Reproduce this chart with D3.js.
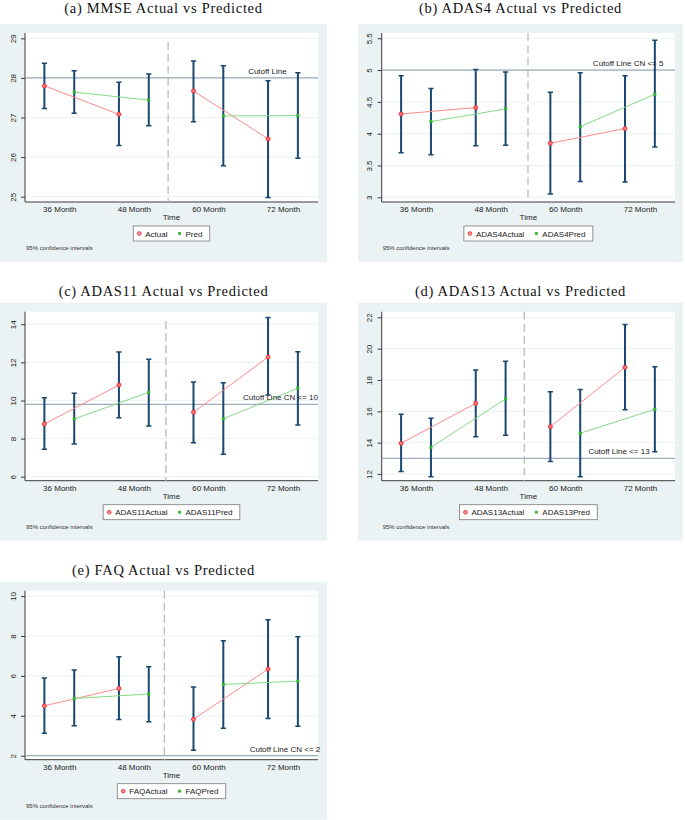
<!DOCTYPE html>
<html>
<head>
<meta charset="utf-8">
<script src="https://cdn.jsdelivr.net/npm/d3@7"></script>
<style>
  body { margin: 0; background: #fff; }
</style>
</head>
<body>
<div id="app"></div>
<script>
// --- data ---
const months = ["36 Month", "48 Month", "60 Month", "72 Month"];

const mmseActual = [27.80, 27.08, 27.67, 26.46];
const mmseActualLo = [27.23, 26.29, 26.89, 24.98];
const mmseActualHi = [28.37, 27.89, 28.43, 27.93];
const mmsePred = [27.64, 27.44, 27.04, 27.05];
const mmsePredLo = [27.11, 26.79, 25.78, 25.97];
const mmsePredHi = [28.18, 28.10, 28.31, 28.13];

const adas4Actual = [4.31, 4.41, 3.85, 4.08];
const adas4ActualLo = [3.70, 3.81, 3.05, 3.24];
const adas4ActualHi = [4.91, 5.01, 4.65, 4.91];
const adas4Pred = [4.19, 4.39, 4.11, 4.62];
const adas4PredLo = [3.67, 3.82, 3.25, 3.79];
const adas4PredHi = [4.71, 4.97, 4.96, 5.47];

const adas11Actual = [8.77, 10.81, 9.38, 12.28];
const adas11ActualLo = [7.44, 9.10, 7.78, 10.29];
const adas11ActualHi = [10.15, 12.55, 10.97, 14.35];
const adas11Pred = [9.03, 10.43, 9.04, 10.64];
const adas11PredLo = [7.72, 8.66, 7.18, 8.71];
const adas11PredHi = [10.38, 12.16, 10.93, 12.56];

const adas13Actual = [13.96, 16.51, 15.02, 18.81];
const adas13ActualLo = [12.15, 14.38, 12.79, 16.10];
const adas13ActualHi = [15.81, 18.64, 17.25, 21.55];
const adas13Pred = [13.70, 16.79, 14.60, 16.13];
const adas13PredLo = [11.83, 14.47, 11.83, 13.42];
const adas13PredHi = [15.55, 19.19, 17.40, 18.85];

const faqActual = [4.50, 5.37, 3.83, 6.34];
const faqActualLo = [3.13, 3.82, 2.27, 3.87];
const faqActualHi = [5.89, 6.96, 5.44, 8.81];
const faqPred = [4.87, 5.09, 5.57, 5.74];
const faqPredLo = [3.50, 3.70, 3.37, 3.48];
const faqPredHi = [6.29, 6.46, 7.76, 7.96];

const titles = [
  "(a) MMSE Actual vs Predicted",
  "(b) ADAS4 Actual vs Predicted",
  "(c) ADAS11 Actual vs Predicted",
  "(d) ADAS13 Actual vs Predicted",
  "(e) FAQ Actual vs Predicted"
];
const legendNames = [
  ["Actual", "Pred"],
  ["ADAS4Actual", "ADAS4Pred"],
  ["ADAS11Actual", "ADAS11Pred"],
  ["ADAS13Actual", "ADAS13Pred"],
  ["FAQActual", "FAQPred"]
];
const yTicks = [
  [25, 26, 27, 28, 29],
  [3, 3.5, 4, 4.5, 5, 5.5],
  [6, 8, 10, 12, 14],
  [12, 14, 16, 18, 20, 22],
  [2, 4, 6, 8, 10]
];
const yDomains = [
  [24.866, 29.134],
  [2.926, 5.583],
  [5.79, 14.66],
  [11.57, 22.36],
  [1.80, 10.27]
];
const cutoffValues = [28, 5, 9.8, 13, 2];
const cutoffLabels = [
  "Cutoff Line",
  "Cutoff Line CN <= 5",
  "Cutoff Line CN <= 10",
  "Cutoff Line <= 13",
  "Cutoff Line CN <= 2"
];
const cutoffLabelX = [3.05, 3.315, 3.47, 3.13, 3.50];
const dividerX = [1.46, 1.50, 1.43, 1.45, 1.41];
const dividerTopGap = [8.7, 0, 9.4, 0, 0];

const series = [
  [mmseActual, mmseActualLo, mmseActualHi, mmsePred, mmsePredLo, mmsePredHi],
  [adas4Actual, adas4ActualLo, adas4ActualHi, adas4Pred, adas4PredLo, adas4PredHi],
  [adas11Actual, adas11ActualLo, adas11ActualHi, adas11Pred, adas11PredLo, adas11PredHi],
  [adas13Actual, adas13ActualLo, adas13ActualHi, adas13Pred, adas13PredLo, adas13PredHi],
  [faqActual, faqActualLo, faqActualHi, faqPred, faqPredLo, faqPredHi]
];

// --- style / layout ---
const colors = {
  region: "#eaf2f3",
  grid: "#eaf2f3",
  axis: "#3a3a3a",
  bar: "#1a476f",
  actualLine: "#ff8a8a",
  actualMarker: "#e8262b",
  predLine: "#86d986",
  predMarker: "#2cb52c",
  cutoff: "#8798aa",
  divider: "#b8bcbe"
};
const sans = "'Liberation Sans', Arial, sans-serif";
const serif = "'Liberation Serif', 'Times New Roman', serif";

const rowTops = [24, 302.7, 581.7];
const titleBaselines = [12.5, 295.5, 575];
const columns = [
  { x: 0, w: 327, left: 25, right: 318 },
  { x: 358, w: 325, left: 381.7, right: 675 }
];

const svg = d3.select("#app")
  .append("svg")
  .attr("width", 685)
  .attr("height", 820);

const drawPanel = (i) => {
  const col = columns[i % 2];
  const row = Math.floor(i / 2);
  const top = rowTops[row];
  const plotTop = top + 9;
  const plotBottom = top + 178;
  const [act, actLo, actHi, pred, predLo, predHi] = series[i];

  const g = svg.append("g");

  g.append("text")
    .attr("x", col.x + col.w / 2)
    .attr("y", titleBaselines[row])
    .attr("text-anchor", "middle")
    .attr("font-family", serif)
    .attr("font-size", 14.5)
    .attr("letter-spacing", 0.7)
    .attr("fill", "#111")
    .text(titles[i]);

  g.append("rect")
    .attr("x", col.x).attr("y", top)
    .attr("width", col.w).attr("height", 238)
    .attr("fill", colors.region);

  g.append("rect")
    .attr("x", col.left).attr("y", plotTop)
    .attr("width", col.right - col.left).attr("height", plotBottom - plotTop)
    .attr("fill", "#fff");

  const x = d3.scaleLinear().domain([-0.46, 3.47]).range([col.left, col.right]);
  const y = d3.scaleLinear().domain(yDomains[i]).range([plotBottom, plotTop]);

  // gridlines
  g.append("g")
    .selectAll("line")
    .data(yTicks[i])
    .join("line")
    .attr("x1", col.left).attr("x2", col.right)
    .attr("y1", (d) => y(d)).attr("y2", (d) => y(d))
    .attr("stroke", colors.grid)
    .attr("stroke-width", 1);

  // y axis
  const yAxis = g.append("g")
    .attr("transform", `translate(${col.left},0)`)
    .call(d3.axisLeft(y).tickValues(yTicks[i]).tickSize(4).tickFormat(d3.format("")));
  yAxis.select(".domain")
    .attr("stroke", colors.axis)
    .attr("d", `M0,${plotTop}V${plotBottom}`);
  yAxis.selectAll(".tick line").attr("stroke", colors.axis);
  yAxis.selectAll(".tick text")
    .attr("font-family", sans)
    .attr("font-size", 8)
    .attr("fill", "#222")
    .attr("x", 0).attr("y", 0)
    .attr("dy", null)
    .attr("text-anchor", "middle")
    .attr("dominant-baseline", "central")
    .attr("transform", "translate(-12,0) rotate(-90)");

  // x axis
  const xAxis = g.append("g")
    .attr("transform", `translate(0,${plotBottom})`)
    .call(d3.axisBottom(x).tickValues([0, 1, 2, 3]).tickSize(0).tickFormat((d) => months[d]));
  xAxis.select(".domain")
    .attr("stroke", colors.axis)
    .attr("d", `M${col.left},0H${col.right}`);
  xAxis.selectAll(".tick text")
    .attr("font-family", sans)
    .attr("font-size", 8)
    .attr("fill", "#222")
    .attr("dy", null)
    .attr("y", 10);

  g.append("text")
    .attr("x", (col.left + col.right) / 2)
    .attr("y", top + 196)
    .attr("text-anchor", "middle")
    .attr("font-family", sans)
    .attr("font-size", 8)
    .attr("fill", "#222")
    .text("Time");

  // cutoff line
  g.append("line")
    .attr("x1", col.left).attr("x2", col.right)
    .attr("y1", y(cutoffValues[i])).attr("y2", y(cutoffValues[i]))
    .attr("stroke", colors.cutoff)
    .attr("stroke-width", 1);

  // divider between 48 and 60 month
  g.append("line")
    .attr("x1", x(dividerX[i])).attr("x2", x(dividerX[i]))
    .attr("y1", plotTop + dividerTopGap[i]).attr("y2", plotBottom)
    .attr("stroke", colors.divider)
    .attr("stroke-width", 1.3)
    .attr("stroke-dasharray", "8,4");

  const points = [];
  months.forEach((m, k) => {
    points.push({ kind: "actual", k, xv: k - 0.2, v: act[k], lo: actLo[k], hi: actHi[k] });
    points.push({ kind: "pred", k, xv: k + 0.2, v: pred[k], lo: predLo[k], hi: predHi[k] });
  });

  // confidence interval caps
  const bars = g.append("g")
    .attr("stroke", colors.bar)
    .attr("stroke-width", 2);
  bars.selectAll("line.ci")
    .data(points)
    .join("line")
    .attr("class", "ci")
    .attr("x1", (d) => x(d.xv)).attr("x2", (d) => x(d.xv))
    .attr("y1", (d) => y(d.lo)).attr("y2", (d) => y(d.hi));
  bars.selectAll("path.cap")
    .data(points)
    .join("path")
    .attr("class", "cap")
    .attr("stroke-width", 1.5)
    .attr("d", (d) =>
      `M${x(d.xv) - 2.6},${y(d.lo)}H${x(d.xv) + 2.6}M${x(d.xv) - 2.6},${y(d.hi)}H${x(d.xv) + 2.6}`);

  // connecting lines, broken at the divider
  const line = d3.line().x((d) => x(d.xv)).y((d) => y(d.v));
  [["actual", colors.actualLine], ["pred", colors.predLine]].forEach(([kind, c]) => {
    const pts = points.filter((d) => d.kind === kind);
    [pts.slice(0, 2), pts.slice(2, 4)].forEach((seg) => {
      g.append("path")
        .attr("d", line(seg))
        .attr("fill", "none")
        .attr("stroke", c)
        .attr("stroke-width", 1);
    });
  });

  // markers
  g.selectAll("circle.act")
    .data(points.filter((d) => d.kind === "actual"))
    .join("circle")
    .attr("class", "act")
    .attr("cx", (d) => x(d.xv)).attr("cy", (d) => y(d.v))
    .attr("r", 2)
    .attr("fill", "#ff7a7a")
    .attr("stroke", colors.actualMarker)
    .attr("stroke-width", 0.9);
  g.selectAll("rect.pred")
    .data(points.filter((d) => d.kind === "pred"))
    .join("rect")
    .attr("class", "pred")
    .attr("x", (d) => x(d.xv) - 1.5).attr("y", (d) => y(d.v) - 1.5)
    .attr("width", 3).attr("height", 3)
    .attr("fill", colors.predMarker);

  // cutoff label
  g.append("text")
    .attr("x", x(cutoffLabelX[i]))
    .attr("y", y(cutoffValues[i]) - 4)
    .attr("text-anchor", "end")
    .attr("font-family", sans)
    .attr("font-size", 8)
    .attr("fill", "#222")
    .text(cutoffLabels[i]);

  // legend
  const lg = g.append("g");
  const names = legendNames[i];
  const texts = names.map((n) =>
    lg.append("text")
      .attr("font-family", sans)
      .attr("font-size", 8)
      .attr("fill", "#222")
      .text(n));
  const widest = d3.max(texts, (t) => t.node().getComputedTextLength());
  const colW = widest + 18;
  const boxW = colW * 2 - 4;
  const boxX = (col.left + col.right) / 2 - boxW / 2;
  const boxY = top + 202;
  lg.insert("rect", "text")
    .attr("x", boxX).attr("y", boxY)
    .attr("width", boxW).attr("height", 15)
    .attr("fill", "#fff")
    .attr("stroke", "#7a7a7a")
    .attr("stroke-width", 0.8);
  texts.forEach((t, k) => {
    const mx = boxX + 6 + k * colW;
    t.attr("x", mx + 6).attr("y", boxY + 10.5);
    if (k === 0) {
      lg.append("circle")
        .attr("cx", mx).attr("cy", boxY + 7.5).attr("r", 1.8)
        .attr("fill", "#ff9a9a")
        .attr("stroke", colors.actualMarker)
        .attr("stroke-width", 0.9);
    } else {
      lg.append("rect")
        .attr("x", mx - 1.4).attr("y", boxY + 6.1)
        .attr("width", 2.8).attr("height", 2.8)
        .attr("fill", colors.predMarker);
    }
  });

  g.append("text")
    .attr("x", col.left + 1)
    .attr("y", top + 226)
    .attr("font-family", sans)
    .attr("font-size", 6)
    .attr("fill", "#333")
    .text("95% confidence intervals");
};

titles.forEach((t, i) => drawPanel(i));
</script>
</body>
</html>
